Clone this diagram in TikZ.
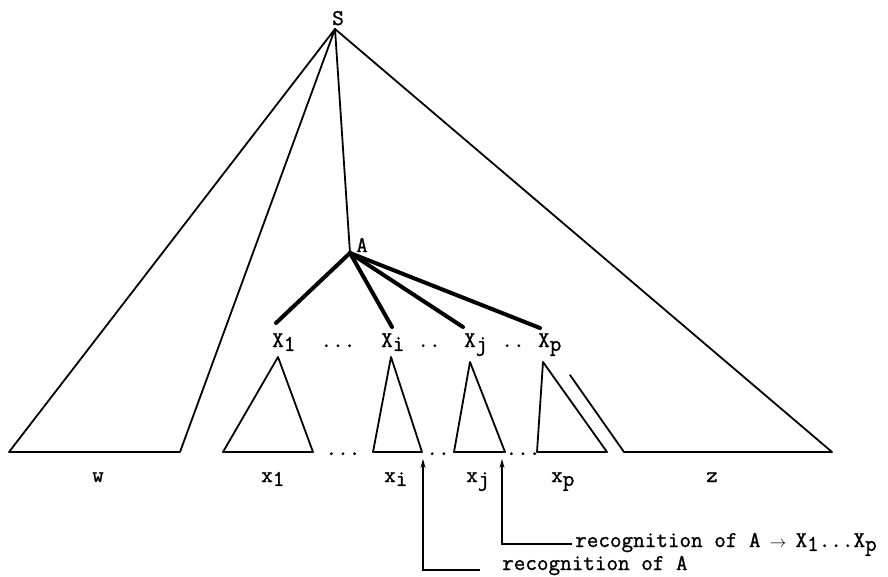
\documentclass[tikz,border=0pt]{standalone}
\usepackage{fontspec}
\newfontfamily\tw[FakeBold=1.2]{Latin Modern Mono}
\usetikzlibrary{arrows.meta}
\newcommand\dn[1]{\raisebox{-0.4ex}{#1}}
\newcommand\tarr{\makebox[0.525em]{\scalebox{0.8}{$\rightarrow$}}}
\begin{document}
\begin{tikzpicture}[x=1pt,y=-1pt,
  thinline/.style={line width=1.8pt,line join=round,line cap=round},
  thickline/.style={line width=4pt,line cap=round},
  lbl/.style={font=\tw\fontsize{22.5}{26}\selectfont,inner sep=0pt,anchor=base west},
  lblc/.style={font=\tw\fontsize{22.5}{26}\selectfont,inner sep=0pt,anchor=base},
  ptr/.style={line width=1.2pt,-{Stealth[length=9pt,width=5pt]}}]
\useasboundingbox (0,0) rectangle (888,577);
% main coordinates
\coordinate (S) at (335,29);
\coordinate (A) at (350,253);
\node[lblc] (Slbl) at (338,25) {S};
\node[lbl] (Albl) at (356,252) {A};
% big triangles
\coordinate (wl) at (9,452);
\coordinate (wr) at (180,452);
\coordinate (zl) at (624,452);
\coordinate (zr) at (832,452);
\coordinate (zt) at (570,375);
\draw[thinline] (wr) -- (S) -- (wl) -- (wr);
\draw[thinline] (S) -- (zr) -- (zl) -- (zt);
\draw[thinline] (S) -- (A);
% children of A
\coordinate (e1) at (276,323);
\coordinate (ei) at (392,327);
\coordinate (ej) at (463,327);
\coordinate (ep) at (540,328);
\draw[thickline] (A) -- (e1);
\draw[thickline] (A) -- (ei);
\draw[thickline] (A) -- (ej);
\draw[thickline] (A) -- (ep);
\node[lbl] (X1) at (272,347) {X\dn{1}};
\node[lbl] (Xi) at (381,347) {X\dn{i}};
\node[lbl] (Xj) at (464,347) {X\dn{j}};
\node[lbl] (Xp) at (538,347) {X\dn{p}};
\node[lblc] (d1) at (338,347) {...};
\node[lblc] (d2) at (429,347) {..};
\node[lblc] (d3) at (513,347) {..};
% small triangles
\draw[thinline] (278,357) -- (313,452) -- (223,452) -- cycle;
\draw[thinline] (391,357) -- (422,452) -- (373,452) -- cycle;
\draw[thinline] (470,362) -- (505,452) -- (454,452) -- cycle;
\draw[thinline] (543,362) -- (607,452) -- (537,452) -- cycle;
\node[lblc] (b1) at (343,455) {...};
\node[lblc] (b2) at (438,455) {..};
\node[lblc] (b3) at (523,455) {...};
% leaf labels
\node[lblc] (w) at (98,482) {w};
\node[lbl] (x1) at (261,482) {x\dn{1}};
\node[lbl] (xi) at (384,482) {x\dn{i}};
\node[lbl] (xj) at (466,482) {x\dn{j}};
\node[lbl] (xp) at (551,482) {x\dn{p}};
\node[lblc] (z) at (712,482) {z};
% recognition pointers
\node[lbl] (recA) at (502,570) {recognition of A};
\node[lbl] (recR) at (575,547) {recognition of A \tarr{} X\dn{1}...X\dn{p}};
\coordinate (pA) at (423,459);
\coordinate (pR) at (502,459);
\draw[ptr] (recA.west |- 0,570) ++(-22,0) -- (423,570) -- (pA);
\draw[ptr] (recR.west |- 0,544) ++(-3,0) -- (502,544) -- (pR);
\end{tikzpicture}
\end{document}
